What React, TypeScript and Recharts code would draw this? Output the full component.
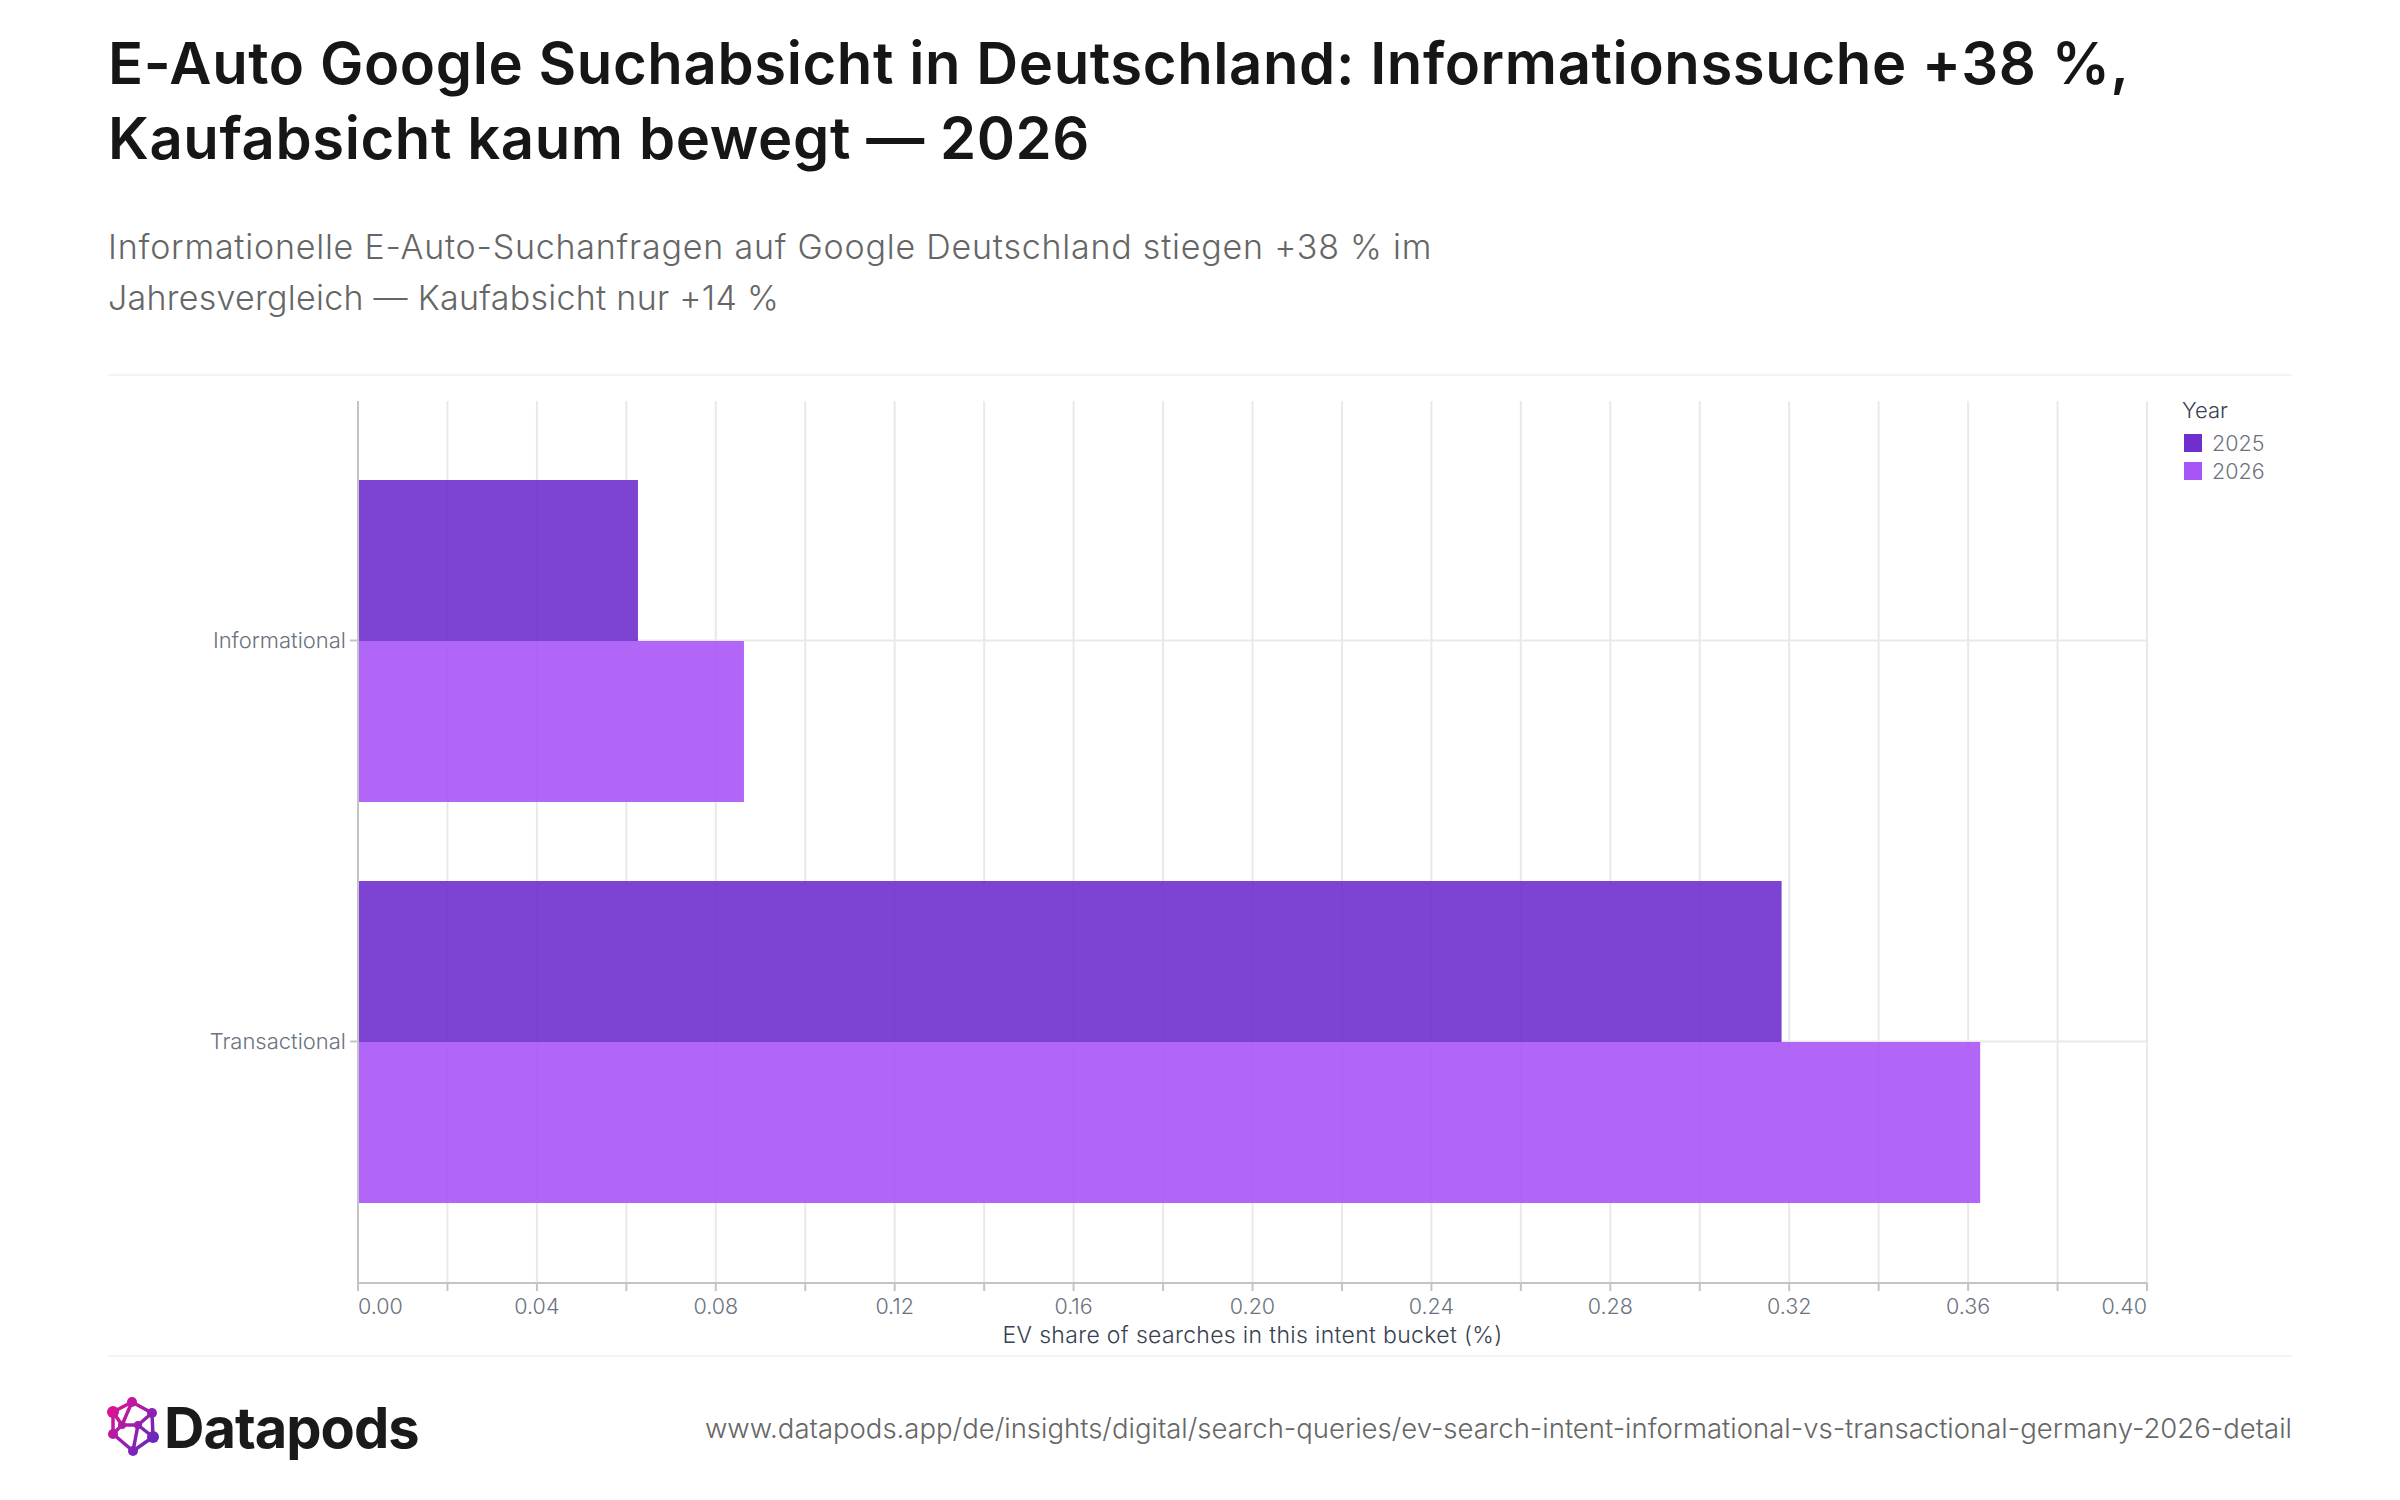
import { BarChart, Bar, XAxis, YAxis, CartesianGrid, Legend } from "recharts";

const categories = ["Informational", "Transactional"];
const values2025 = [0.0626, 0.3183];
const values2026 = [0.0863, 0.3627];
const xTicks = [0, 0.02, 0.04, 0.06, 0.08, 0.1, 0.12, 0.14, 0.16, 0.18, 0.2, 0.22, 0.24, 0.26, 0.28, 0.3, 0.32, 0.34, 0.36, 0.38, 0.4];
const titleLines = ["E-Auto Google Suchabsicht in Deutschland: Informationssuche +38 %,", "Kaufabsicht kaum bewegt — 2026"];
const subtitleLines = ["Informationelle E-Auto-Suchanfragen auf Google Deutschland stiegen +38 % im", "Jahresvergleich — Kaufabsicht nur +14 %"];
const sourceUrl = "www.datapods.app/de/insights/digital/search-queries/ev-search-intent-informational-vs-transactional-germany-2026-detail";

const data = categories.map((category, i) => ({ category, y2025: values2025[i], y2026: values2026[i] }));

const FONT = "Inter, sans-serif";
const AXIS = "#c4c4c4";
const GRID = "#e9e9e9";
const TICK_TEXT = "#6b7280";

const XTick = ({ x, y, payload, index }: any) => {
  // labels only on every second tick, the two ends stay inside the plot
  if (index % 2 === 1) return null;
  const anchor = index === 0 ? "start" : index === xTicks.length - 1 ? "end" : "middle";
  return (
    <text x={x} y={y + 21} textAnchor={anchor} fontFamily={FONT} fontSize={21.5} fontWeight={300} fill={TICK_TEXT}>
      {payload.value.toFixed(2)}
    </text>
  );
};

const YTick = ({ x, y, payload }: any) => (
  <text x={x - 1} y={y + 7} textAnchor="end" fontFamily={FONT} fontSize={22} fontWeight={300} fill={TICK_TEXT}>
    {payload.value}
  </text>
);

const YearLegend = ({ payload }: any) => (
  <div style={{ fontFamily: FONT, width: 120 }}>
    <div style={{ fontSize: 22, color: "#374151", lineHeight: "24px", fontWeight: 300, marginBottom: 7 }}>Year</div>
    {(payload || []).map((item: any) => (
      <div key={item.value} style={{ display: "flex", alignItems: "center", height: 28 }}>
        <span style={{ width: 18, height: 18, marginLeft: 2, marginRight: 10, background: item.color, display: "block" }} />
        <span style={{ fontSize: 21.5, color: TICK_TEXT, fontWeight: 300 }}>{item.value}</span>
      </div>
    ))}
  </div>
);

const Logo = () => {
  const nodes = [
    [132, 1402, 5],
    [113, 1412, 6],
    [152, 1413, 5],
    [113, 1434, 5],
    [153, 1437, 6],
    [133, 1451, 5],
    [122, 1425, 4],
    [138, 1425, 4],
  ];
  const links = [
    [0, 1], [0, 2], [1, 3], [2, 4], [3, 5], [4, 5],
    [0, 6], [1, 6], [6, 7], [2, 7], [7, 4], [7, 5], [6, 3],
  ];
  return (
    <svg width={60} height={66} viewBox="103 1394 60 66" style={{ position: "absolute", left: 103, top: 1394 }}>
      <defs>
        <linearGradient id="logoGrad" gradientUnits="userSpaceOnUse" x1="108" y1="1405" x2="158" y2="1445">
          <stop offset="0" stopColor="#e6128f" />
          <stop offset="1" stopColor="#5b2ac4" />
        </linearGradient>
      </defs>
      {links.map(([a, b], i) => (
        <line key={i} x1={nodes[a][0]} y1={nodes[a][1]} x2={nodes[b][0]} y2={nodes[b][1]} stroke="url(#logoGrad)" strokeWidth={3.5} />
      ))}
      {nodes.map(([x, y, r], i) => (
        <circle key={i} cx={x} cy={y} r={r} fill="url(#logoGrad)" />
      ))}
    </svg>
  );
};

const Divider = ({ top }: { top: number }) => (
  <div style={{ position: "absolute", left: 108, top, width: 2184, height: 2, background: "#f4f4f4" }} />
);

export default function App() {
  return (
    <div style={{ position: "absolute", left: 0, top: 0, width: 2400, height: 1500, background: "#fff", overflow: "hidden", fontFamily: FONT }}>
      {titleLines.map((line, i) => (
        <div key={i} style={{ position: "absolute", left: 108, top: 27 + i * 75, fontSize: 58, lineHeight: "72px", fontWeight: 600, letterSpacing: "0.6px", color: "#161616", whiteSpace: "nowrap" }}>
          {line}
        </div>
      ))}
      {subtitleLines.map((line, i) => (
        <div key={i} style={{ position: "absolute", left: 108, top: 225 + i * 51, fontSize: 34, lineHeight: "44px", fontWeight: 300, letterSpacing: i === 0 ? "0.78px" : "0.28px", color: "#666", whiteSpace: "nowrap" }}>
          {line}
        </div>
      ))}
      <Divider top={374} />
      <div style={{ position: "absolute", left: 108, top: 380 }}>
        <BarChart
          width={2184}
          height={975}
          layout="vertical"
          data={data}
          barCategoryGap={40}
          barGap={0}
          margin={{ top: 21, right: 145, bottom: 0, left: 0 }}
        >
          <CartesianGrid stroke={GRID} strokeWidth={2} syncWithTicks />
          <XAxis
            type="number"
            domain={[0, 0.4]}
            ticks={xTicks}
            interval={0}
            height={72}
            tick={<XTick />}
            tickSize={8}
            stroke={AXIS}
            strokeWidth={2}
            label={{ value: "EV share of searches in this intent bucket (%)", position: "insideBottom", offset: 12, fontFamily: FONT, fontSize: 23, fontWeight: 300, letterSpacing: 0.33, fill: "#374151" }}
          />
          <YAxis
            type="category"
            dataKey="category"
            width={250}
            padding={{ top: 39, bottom: 41 }}
            tick={<YTick />}
            tickSize={8}
            tickMargin={3}
            stroke={AXIS}
            strokeWidth={2}
          />
          <Legend
            layout="vertical"
            align="center"
            verticalAlign="middle"
            content={<YearLegend />}
            wrapperStyle={{ position: "absolute", left: 2074, top: 18, width: 120 }}
          />
          <Bar dataKey="y2025" name="2025" fill="#6f2fce" fillOpacity={0.9} isAnimationActive={false} />
          <Bar dataKey="y2026" name="2026" fill="#a855f7" fillOpacity={0.9} isAnimationActive={false} />
        </BarChart>
      </div>
      <Divider top={1355} />
      <Logo />
      <div style={{ position: "absolute", left: 164, top: 1393, fontSize: 56, lineHeight: "70px", fontWeight: 700, color: "#1a1a1a", letterSpacing: "-1px" }}>
        Datapods
      </div>
      <div style={{ position: "absolute", right: 108, top: 1408, fontSize: 27.5, lineHeight: "40px", fontWeight: 300, color: "#666", whiteSpace: "nowrap" }}>
        {sourceUrl}
      </div>
    </div>
  );
}
